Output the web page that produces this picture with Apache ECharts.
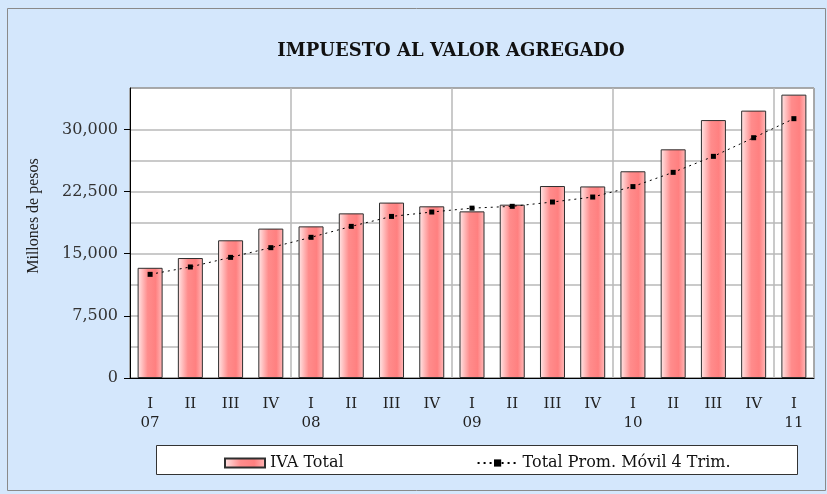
<!DOCTYPE html>
<html>
<head>
<meta charset="utf-8">
<title>IVA</title>
<script src="https://cdn.jsdelivr.net/npm/echarts@6/dist/echarts.min.js"></script>
<style>
  html, body { margin: 0; padding: 0; background: #fff; }
  #iva-chart { width: 827px; height: 494px; }
</style>
</head>
<body>
<div id="iva-chart"></div>
<script>
// datos trimestrales (millones de pesos)
const trimestres = ['I', 'II', 'III', 'IV', 'I', 'II', 'III', 'IV', 'I', 'II', 'III', 'IV', 'I', 'II', 'III', 'IV', 'I']
const anios = ['07', '', '', '', '08', '', '', '', '09', '', '', '', '10', '', '', '', '11']
const ivaTotal = [13300, 14480, 16620, 18030, 18300, 19870, 21170, 20720, 20110, 20920, 23170, 23120, 24950, 27600, 31130, 32270, 34200]
const promMovil = [12510, 13400, 14560, 15730, 16980, 18300, 19500, 20030, 20500, 20720, 21240, 21840, 23100, 24820, 26750, 29000, 31300]
const yTicks = [0, 7500, 15000, 22500, 30000]

const categorias = trimestres.map((t, i) => (anios[i] ? t + '\n' + anios[i] : t))

const gridColor = '#b9b9b9'
// linea de division cada 3,750; sin linea en 33,750
const gridColors = []
for (let i = 0; i <= 10; i++) gridColors.push(i === 9 ? 'rgba(0,0,0,0)' : gridColor)

const chart = echarts.init(document.getElementById('iva-chart'))

const option = {
  backgroundColor: '#d4e7fc',
  textStyle: { fontFamily: 'DejaVu Serif', color: '#222' },
  title: {
    text: 'IMPUESTO AL VALOR AGREGADO',
    left: 446,
    textAlign: 'center',
    top: 37,
    textStyle: { fontFamily: 'DejaVu Serif', fontWeight: 'bold', fontSize: 18, color: '#111' },
  },
  graphic: [
    {
      type: 'rect',
      shape: { x: 7.5, y: 8.5, width: 818, height: 482 },
      style: { fill: 'none', stroke: '#8a8a8a', lineWidth: 1 },
      silent: true,
    },
    {
      type: 'rect',
      shape: { x: 156.5, y: 445.5, width: 641, height: 29 },
      style: { fill: '#fff', stroke: '#333', lineWidth: 1 },
      silent: true,
      z: -1,
    },
  ],
  legend: {
    left: 219,
    top: 450,
    itemGap: 133,
    itemWidth: 40,
    itemHeight: 9,
    textStyle: { fontFamily: 'DejaVu Serif', fontSize: 16, color: '#111' },
    data: [
      { name: 'IVA Total', icon: 'rect' },
      { name: 'Total Prom. Móvil 4 Trim.' },
    ],
  },
  grid: {
    left: 130,
    top: 88,
    width: 684,
    bottom: 116,
    show: true,
    backgroundColor: '#fff',
    borderColor: '#000',
    borderWidth: 1,
  },
  xAxis: {
    type: 'category',
    data: categorias,
    axisLine: { lineStyle: { color: '#000', width: 1 } },
    axisTick: { interval: 3, length: 6, lineStyle: { color: '#000' } },
    axisLabel: {
      interval: 0,
      margin: 17,
      fontSize: 15,
      lineHeight: 19,
      color: '#222',
      verticalAlign: 'top',
    },
    splitLine: { show: true, interval: 3, lineStyle: { color: gridColor, width: 1.5 } },
  },
  yAxis: [
    {
      type: 'value',
      min: 0,
      max: 35000,
      interval: 7500,
      name: 'Millones de pesos',
      nameLocation: 'middle',
      nameRotate: 90,
      nameGap: 88,
      nameTextStyle: { fontFamily: 'Liberation Serif', fontSize: 16, color: '#222', padding: [0, 0, 0, 34] },
      axisLine: { show: true, lineStyle: { color: '#000', width: 1 } },
      axisTick: { show: true, length: 6, customValues: yTicks, lineStyle: { color: '#000' } },
      axisLabel: {
        margin: 12,
        fontSize: 16,
        color: '#333',
        customValues: yTicks,
        formatter: (v) => (v % 7500 === 0 && v <= 30000 ? v.toLocaleString('en-US') : ''),
      },
      splitLine: { show: false },
    },
    {
      type: 'value',
      min: 0,
      max: 35000,
      interval: 3750,
      position: 'left',
      axisLine: { show: false },
      axisTick: { show: false },
      axisLabel: { show: false },
      splitLine: { show: true, lineStyle: { color: gridColors, width: 1.5 } },
    },
  ],
  series: [
    {
      name: 'IVA Total',
      type: 'bar',
      data: ivaTotal,
      barWidth: 25,
      itemStyle: {
        color: new echarts.graphic.LinearGradient(0, 0, 1, 0, [
          { offset: 0, color: '#ffe8e8' },
          { offset: 0.4, color: '#ff8c8c' },
          { offset: 0.72, color: '#ff8080' },
          { offset: 1, color: '#ffbcbc' },
        ]),
        borderColor: '#2e2e2e',
        borderWidth: 1,
      },
      z: 2,
    },
    {
      name: 'Total Prom. Móvil 4 Trim.',
      type: 'line',
      data: promMovil,
      symbol: 'rect',
      symbolSize: 5,
      itemStyle: { color: '#000' },
      lineStyle: { color: '#000', width: 1, type: [2, 4] },
      z: 3,
    },
  ],
}

chart.setOption(option)
</script>
</body>
</html>
